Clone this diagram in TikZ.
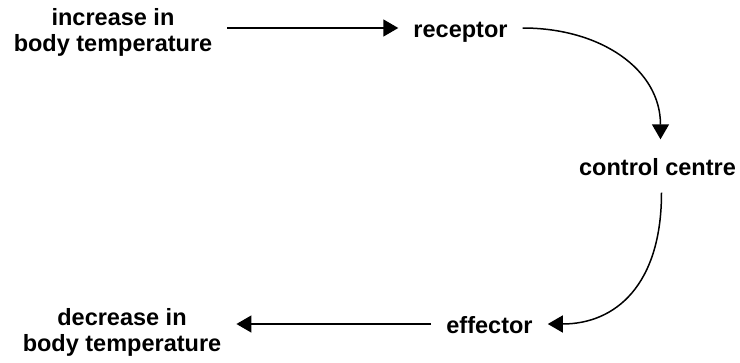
\documentclass[tikz,border=0pt]{standalone}
\usepackage{fontspec}
\setmainfont{Liberation Sans}
\usetikzlibrary{arrows.meta}
\tikzset{
  stagetext/.style={font=\bfseries\fontsize{23.5}{26}\selectfont, align=center, inner xsep=15pt, inner ysep=4pt},
  oneline/.style={stagetext, text height=18pt, text depth=0pt},
  flow/.style={-{Triangle[length=15pt,width=17pt]}, line width=1.5pt},
}

\begin{document}
\begin{tikzpicture}[x=1pt,y=-1pt]
  \useasboundingbox (0,0) rectangle (740,362);
  \node[stagetext] (incr) at (113,32) {increase in\\body temperature};
  \node[oneline] (rec) at (460.5,28) {receptor};
  \node[oneline,inner ysep=17.5pt] (ctrl) at (657.5,166) {control centre};
  \node[oneline] (eff) at (489.5,324) {effector};
  \node[stagetext] (decr) at (122,332) {decrease in\\body temperature};
  % loop round the right side
  \draw[flow] (incr.east |- rec) -- (rec);
  \draw[flow] (rec.east) .. controls +(78,0) and +(0,-70) .. ([xshift=3pt]ctrl.north);
  \draw[flow] ([xshift=4pt]ctrl.south) .. controls +(0,92) and +(68,0) .. (eff.east);
  \draw[flow] (eff) -- (decr.east |- eff);
\end{tikzpicture}
\end{document}
